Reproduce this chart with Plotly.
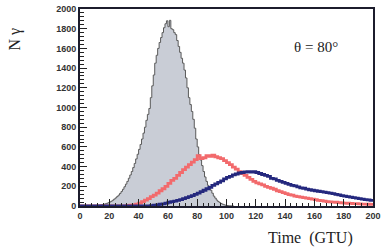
import numpy as np
import plotly.graph_objects as go

# Gray histogram: 1-GTU bins starting at t=0
gray_counts = [
    0, 0, 0, 0, 0, 0, 0, 1, 2, 3,
    5, 6, 8, 10, 12, 15, 18, 22, 27, 33,
    40, 48, 58, 70, 82, 95, 110, 128, 148, 170,
    195, 222, 250, 282, 315, 350, 390, 432, 478, 525,
    575, 625, 680, 740, 800, 870, 930, 990, 1100, 1220,
    1330, 1450, 1530, 1600, 1660, 1710, 1760, 1810, 1850, 1880,
    1820, 1885, 1800, 1790, 1760, 1740, 1680, 1620, 1560, 1500,
    1450, 1380, 1300, 1200, 1100, 1030, 960, 880, 790, 680,
    600, 520, 467, 410, 350, 295, 250, 210, 180, 160,
    130, 100, 80, 60, 45, 35, 25, 18, 12, 8,
    5, 3, 2, 1, 0,
]

# Red and blue histograms: 2-GTU bins starting at t=0
red_counts = [
    0, 0, 0, 0, 0, 0, 0, 0, 0, 0,
    0, 0, 0, 0, 0, 2, 5, 8, 12, 18,
    30, 45, 60, 75, 95, 110, 130, 155, 175, 200,
    230, 260, 280, 310, 340, 370, 395, 420, 445, 470,
    510, 480, 490, 510, 505, 515, 500, 490, 480, 460,
    440, 420, 395, 375, 350, 330, 310, 290, 270, 250,
    235, 225, 215, 200, 190, 180, 170, 155, 145, 135,
    125, 115, 110, 100, 95, 90, 85, 80, 75, 70,
    65, 58, 55, 50, 45, 42, 40, 38, 35, 32,
    30, 28, 27, 25, 24, 22, 20, 20, 18, 17,
]
blue_counts = [
    0, 0, 0, 0, 0, 0, 0, 0, 0, 0,
    0, 0, 0, 0, 0, 0, 0, 0, 0, 0,
    0, 0, 0, 0, 3, 8, 12, 18, 22, 30,
    38, 45, 50, 58, 65, 75, 85, 95, 105, 118,
    130, 145, 160, 175, 190, 210, 225, 240, 255, 275,
    290, 300, 315, 325, 335, 340, 345, 350, 345, 350,
    340, 330, 320, 310, 300, 280, 275, 260, 250, 240,
    230, 220, 210, 205, 195, 185, 180, 172, 165, 160,
    155, 150, 145, 140, 135, 130, 125, 118, 112, 105,
    100, 95, 90, 85, 80, 75, 70, 65, 62, 58,
]

x_ticks = [0, 20, 40, 60, 80, 100, 120, 140, 160, 180, 200]
y_ticks = [0, 200, 400, 600, 800, 1000, 1200, 1400, 1600, 1800, 2000]


def steps(counts, width):
    edges = np.arange(len(counts) + 1) * width
    ys = list(counts) + [counts[-1]]
    return edges, ys


gx, gy = steps(gray_counts, 1)
rx, ry = steps(red_counts, 2)
bx, by = steps(blue_counts, 2)

fig = go.Figure()
fig.add_trace(go.Scatter(x=gx, y=gy, mode="lines", line=dict(shape="hv", color="#5a5a5a", width=1),
                         fill="tozeroy", fillcolor="#c9cdd6", showlegend=False))
fig.add_trace(go.Scatter(x=rx, y=ry, mode="lines", line=dict(shape="hv", color="#f26a6c", width=2.8),
                         showlegend=False))
fig.add_trace(go.Scatter(x=bx, y=by, mode="lines", line=dict(shape="hv", color="#24287e", width=2.8),
                         showlegend=False))

tickfont = dict(family="Liberation Sans, Arial", size=9, color="#333333", weight="bold")
fig.update_xaxes(range=[0, 200], tickvals=x_ticks, ticktext=[str(v) for v in x_ticks],
                 ticks="inside", ticklen=7, tickwidth=1.3, tickcolor="#222",
                 minor=dict(dtick=4, ticks="inside", ticklen=3.5, tickcolor="#222", tickwidth=1),
                 showline=True, linecolor="#1c1c2c", linewidth=2, mirror=True,
                 showgrid=False, zeroline=False, tickfont=tickfont, automargin=False)
fig.update_yaxes(range=[0, 2000], tickvals=y_ticks, ticktext=[str(v) for v in y_ticks],
                 ticks="inside", ticklen=7, tickwidth=1.3, tickcolor="#222",
                 minor=dict(dtick=40, ticks="inside", ticklen=3.5, tickcolor="#222", tickwidth=1),
                 showline=True, linecolor="#1c1c2c", linewidth=2, mirror=True,
                 showgrid=False, zeroline=False, tickfont=tickfont, automargin=False)

serif = "Liberation Serif, Times New Roman, serif"
fig.add_annotation(text="N γ", xref="paper", yref="paper", x=-0.225, y=0.845, textangle=-90,
                   showarrow=False, font=dict(family=serif, size=16, color="#222"),
                   xanchor="center", yanchor="middle")
fig.add_annotation(text="Time  (GTU)", xref="paper", yref="paper", x=0.94, y=-0.16,
                   showarrow=False, font=dict(family=serif, size=16, color="#222"),
                   xanchor="right", yanchor="middle")
fig.add_annotation(text="θ = 80°", xref="paper", yref="paper", x=0.888, y=0.807,
                   showarrow=False, font=dict(family=serif, size=15, color="#222"),
                   xanchor="right", yanchor="middle")

fig.update_layout(width=382, height=249, margin=dict(l=80, r=9, t=9, b=43, autoexpand=False),
                  paper_bgcolor="white", plot_bgcolor="white")
fig.write_html("out.html", config={"displayModeBar": False},
               post_script="document.body.style.margin='0px';")
